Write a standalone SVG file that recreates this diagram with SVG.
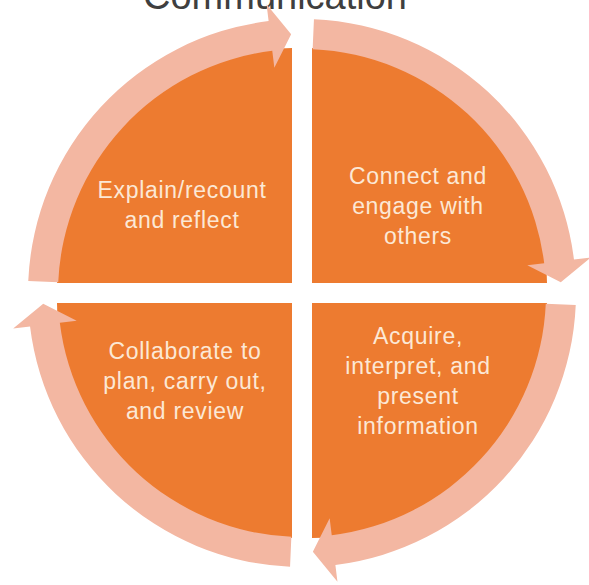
<svg xmlns="http://www.w3.org/2000/svg" width="589" height="585" viewBox="0 0 589 585">
  <style>
    .quad { fill: #ED7B30; }
    .arrow { fill: #F3B7A2; }
    .label { font-family: "Liberation Sans", Arial, sans-serif; font-size: 23px; letter-spacing: 0.7px; fill: #FCE8D5; text-anchor: middle; }
    .title { font-family: "Liberation Sans", Arial, sans-serif; font-size: 38px; fill: #3F3F3F; text-anchor: middle; }
  </style>
  <rect width="589" height="585" fill="#FFFFFF"/>

  <text class="title" x="275" y="9">Communication</text>

  <!-- four quarter-disc segments -->
  <g id="explain">
    <path class="quad" d="M292,283 L57,283 A235,235 0 0 1 292,48 Z"/>
    <text class="label" x="182" y="198">Explain/recount</text>
    <text class="label" x="182" y="228">and reflect</text>
  </g>
  <g id="connect">
    <path class="quad" d="M312,283 L312,48 A235,235 0 0 1 547,283 Z"/>
    <text class="label" x="418" y="184">Connect and</text>
    <text class="label" x="418" y="214">engage with</text>
    <text class="label" x="418" y="244">others</text>
  </g>
  <g id="acquire">
    <path class="quad" d="M312,303 L547,303 A235,235 0 0 1 312,538 Z"/>
    <text class="label" x="418" y="344">Acquire,</text>
    <text class="label" x="418" y="374">interpret, and</text>
    <text class="label" x="418" y="404">present</text>
    <text class="label" x="418" y="434">information</text>
  </g>
  <g id="collaborate">
    <path class="quad" d="M292,303 L292,538 A235,235 0 0 1 57,303 Z"/>
    <text class="label" x="185" y="359">Collaborate to</text>
    <text class="label" x="185" y="389">plan, carry out,</text>
    <text class="label" x="185" y="419">and review</text>
  </g>

  <!-- clockwise ring of curved arrows -->
  <g id="connectors">
    <path class="arrow" d="M28.26,281.05 A274,274 0 0 1 268.61,21.04 L266.54,4.17 L291.15,34.23 L274.34,67.69 L272.26,50.82 A244,244 0 0 0 58.23,282.36 Z"/>
    <path class="arrow" d="M313.95,19.26 A274,274 0 0 1 573.96,259.61 L590.83,257.54 L560.77,282.15 L527.31,265.34 L544.18,263.26 A244,244 0 0 0 312.64,49.23 Z"/>
    <path class="arrow" d="M575.74,304.95 A274,274 0 0 1 335.39,564.96 L337.46,581.83 L312.85,551.77 L329.66,518.31 L331.74,535.18 A244,244 0 0 0 545.77,303.64 Z"/>
    <path class="arrow" d="M290.05,566.74 A274,274 0 0 1 30.04,326.39 L13.17,328.46 L43.23,303.85 L76.69,320.66 L59.82,322.74 A244,244 0 0 0 291.36,536.77 Z"/>
  </g>
</svg>
